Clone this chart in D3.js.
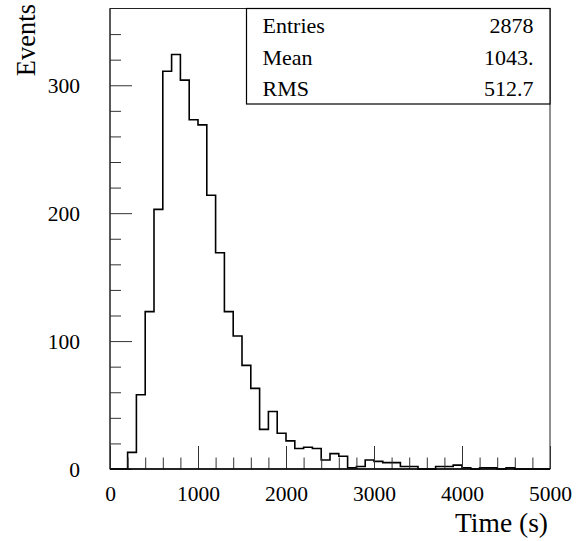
<!DOCTYPE html>
<html>
<head>
<meta charset="utf-8">
<script src="https://cdn.jsdelivr.net/npm/d3@7"></script>
<style>
  body { margin: 0; background: #fff; }
  svg { display: block; font-family: "Liberation Serif", "DejaVu Serif", serif; }
</style>
</head>
<body>
<svg width="579" height="541"></svg>
<script>
// histogram: 50 bins of 100 s from 0 to 5000
var binWidth = 100
var counts = [0, 0, 13, 58, 123, 203, 311, 324, 304, 273,
              269, 214, 169, 123, 104, 81, 63, 31, 45, 28,
              22, 16, 17, 16, 7, 12, 10, 1, 2, 7,
              6, 5, 5, 2, 2, 0, 0, 2, 2, 3,
              1, 0, 1, 1, 0, 1, 0, 0, 0, 0]
var xMajor = [0, 1000, 2000, 3000, 4000, 5000]
var yMajor = [0, 100, 200, 300]
var statNames = ['Entries', 'Mean', 'RMS']
var statValues = ['2878', '1043.', '512.7']

var padL = 110, padR = 550, padT = 8.5, padB = 469

var svg = d3.select('svg')

var x = d3.scaleLinear().domain([0, 5000]).range([padL, padR])
var y = d3.scaleLinear().domain([0, 360]).range([padB, padT])

// frame
svg.append('rect')
    .attr('x', padL).attr('y', padT)
    .attr('width', padR - padL).attr('height', padB - padT)
    .attr('fill', 'none').attr('stroke', '#222').attr('stroke-width', 1)

// histogram outline
var pts = counts.map(function(c, i){ return [i * binWidth, c] })
pts.push([counts.length * binWidth, counts[counts.length - 1]])
var line = d3.line()
    .x(function(d){ return x(d[0]) })
    .y(function(d){ return y(d[1]) })
    .curve(d3.curveStepAfter)
svg.append('path')
    .attr('d', line(pts))
    .attr('fill', 'none')
    .attr('stroke', '#000')
    .attr('stroke-width', 1.6)

// y axis, ticks inside
var yMinor = d3.range(0, 341, 20).filter(function(v){ return v % 100 != 0 })
var ya = svg.append('g').attr('transform', 'translate(' + padL + ',0)')
    .call(d3.axisLeft(y).tickValues(yMajor).tickSize(-22).tickPadding(30).tickFormat(d3.format('d')))
ya.select('.domain').remove()
ya.selectAll('text').attr('font-size', 21.5).attr('font-family', 'Liberation Serif')
    .attr('fill', '#000').attr('dy', '0.34em')
ya.selectAll('line').attr('stroke', '#333')
var ym = svg.append('g').attr('transform', 'translate(' + padL + ',0)')
    .call(d3.axisLeft(y).tickValues(yMinor).tickSize(-11).tickFormat(''))
ym.select('.domain').remove()
ym.selectAll('line').attr('stroke', '#333')

// x axis, ticks pointing up
var xMinor = d3.range(0, 5001, 200).filter(function(v){ return v % 1000 != 0 })
var xa = svg.append('g').attr('transform', 'translate(0,' + padB + ')')
    .call(d3.axisBottom(x).tickValues(xMajor).tickSize(-23).tickPadding(17).tickFormat(d3.format('d')))
xa.select('.domain').remove()
xa.selectAll('text').attr('font-size', 21.5).attr('font-family', 'Liberation Serif').attr('fill', '#000')
xa.selectAll('line').attr('stroke', '#333')
var xm = svg.append('g').attr('transform', 'translate(0,' + padB + ')')
    .call(d3.axisBottom(x).tickValues(xMinor).tickSize(-11.5).tickFormat(''))
xm.select('.domain').remove()
xm.selectAll('line').attr('stroke', '#333')

// redraw bottom/left axis lines on top
svg.append('line').attr('x1', padL).attr('x2', padR).attr('y1', padB).attr('y2', padB)
    .attr('stroke', '#000').attr('stroke-width', 1.6)
svg.append('line').attr('x1', padL).attr('x2', padL).attr('y1', padT).attr('y2', padB)
    .attr('stroke', '#222').attr('stroke-width', 1)

// axis titles
svg.append('text')
    .text('Time (s)')
    .attr('x', 548).attr('y', 532)
    .attr('text-anchor', 'end')
    .attr('font-size', 27.5)
svg.append('text')
    .text('Events')
    .attr('transform', 'translate(35,4) rotate(-90)')
    .attr('text-anchor', 'end')
    .attr('font-size', 26.5)

// stats box
var box = svg.append('g')
box.append('rect')
    .attr('x', 246.5).attr('y', padT)
    .attr('width', padR - 246.5).attr('height', 104 - padT)
    .attr('fill', '#fff').attr('stroke', '#000').attr('stroke-width', 1.2)
box.selectAll('.sname').data(statNames).enter().append('text')
    .attr('class', 'sname')
    .text(function(d){ return d })
    .attr('x', 262.5)
    .attr('y', function(d, i){ return 33 + i * 31.5 })
    .attr('font-size', 22)
box.selectAll('.sval').data(statValues).enter().append('text')
    .attr('class', 'sval')
    .text(function(d){ return d })
    .attr('x', 533.5)
    .attr('y', function(d, i){ return 33 + i * 31.5 })
    .attr('text-anchor', 'end')
    .attr('font-size', 22)
</script>
</body>
</html>
